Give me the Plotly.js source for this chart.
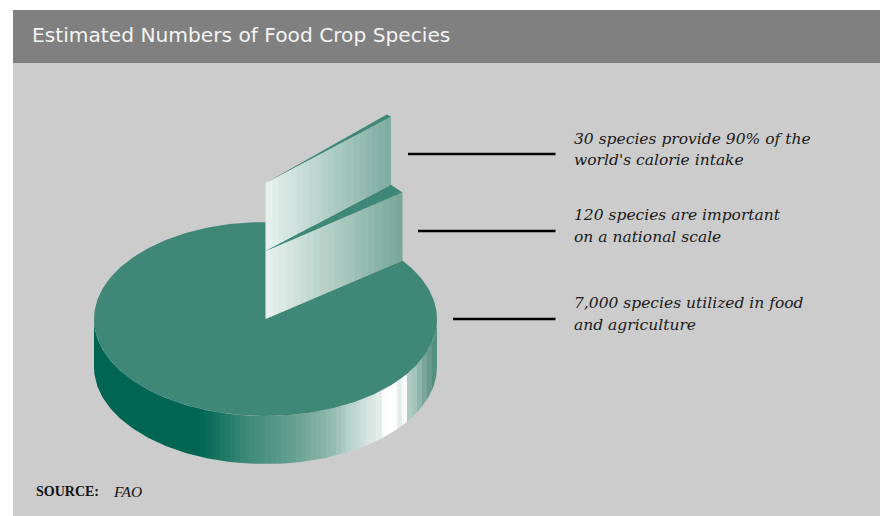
<!DOCTYPE html>
<html>
<head>
<meta charset="utf-8">
<script src="https://cdn.plot.ly/plotly-3.0.1.min.js"></script>
<style>html,body{margin:0;padding:0;background:#fff}#chart{width:880px;height:516px}</style>
</head>
<body>
<div id="chart"></div>
<script>
// ---- data ----
const titleText = "Estimated Numbers of Food Crop Species";
const sliceNames = ["7,000 species", "120 species", "30 species"];
const sliceSpecies = [7000, 120, 30];
const sliceSweepDeg = [352, 6, 2];
const sliceLift = [0, 1, 2];
const labelLines = [
  ["30 species provide 90% of the", "world's calorie intake"],
  ["120 species are important", "on a national scale"],
  ["7,000 species utilized in food", "and agriculture"]
];
const sourceLabel = "SOURCE:";
const sourceValue = "FAO";

// ---- projection of the tilted disc ----
const CX = 265.5, CY = 319, RX = 171.5, RY = 97, DEPTH = 48, LIFT = 68;
const START = 37;
const rad = d => d * Math.PI / 180;
const px = (r, a) => CX + r * RX * Math.cos(rad(a));
const py = (r, a, h) => CY - r * RY * Math.sin(rad(a)) - h;

function arc(from, to, h) {
  const xs = [], ys = [], n = Math.ceil(Math.abs(to - from));
  for (let i = 0; i <= n; i++) {
    const a = from + (to - from) * i / n;
    xs.push(px(1, a)); ys.push(py(1, a, h));
  }
  return [xs, ys];
}
function hex(c) { return [1, 3, 5].map(i => parseInt(c.substr(i, 2), 16)); }
function bands(stops, n) {
  const colorAt = t => {
    let i = 0;
    while (i < stops.length - 2 && t > stops[i + 1][0]) i++;
    const [t0, c0] = stops[i], [t1, c1] = stops[i + 1];
    const f = Math.min(1, Math.max(0, (t - t0) / (t1 - t0)));
    const a = hex(c0), b = hex(c1);
    return "rgb(" + a.map((v, k) => Math.round(v + (b[k] - v) * f)).join(",") + ")";
  };
  const out = [];
  for (let i = 0; i < n; i++) {
    const c = colorAt((i + 0.5) / n);
    out.push([i / n, c], [(i + 1) / n, c]);
  }
  return out;
}

const TOP = "#3f8878";
const sideStops = [
  [0, "#006653"], [0.31, "#006653"], [0.45, "#3f8a78"], [0.58, "#65a08f"],
  [0.69, "#90b9ad"], [0.746, "#b7d2cb"], [0.837, "#e8efed"], [0.847, "#ffffff"],
  [0.878, "#ffffff"], [0.8785, "#e6eeec"], [0.892, "#e6eeec"], [0.8925, "#f8fbfa"],
  [0.9067, "#f8fbfa"], [0.907, "#b6d0c9"], [0.939, "#a0c0b8"], [0.968, "#70a092"], [1, "#4a8b7a"]
];
const wallLow = [[0, "#e8f2ef"], [1, "#76a698"]];
const wallHigh = [[0, "#e8f2ef"], [1, "#7dab9f"]];

function solid(x, y, color, name) {
  return { type: "scatter", mode: "lines", x, y, fill: "toself", fillcolor: color,
           line: { width: 0 }, hoverinfo: "text", text: name, showlegend: false };
}
function graded(x, y, scale, name) {
  return { type: "scatter", mode: "lines", x, y, fill: "toself",
           fillgradient: { type: "horizontal", colorscale: scale },
           line: { width: 0 }, hoverinfo: "text", text: name, showlegend: false };
}
function wedgeTop(from, to, h, name) {
  const [ax, ay] = arc(from, to, h);
  return solid([px(0, 0), ...ax, px(0, 0)], [py(0, 0, h), ...ay, py(0, 0, h)], TOP, name);
}
function wall(a, h0, h1, scale, name) {
  return graded([px(0, a), px(1, a), px(1, a), px(0, a), px(0, a)],
                [py(0, a, h0), py(1, a, h0), py(1, a, h1), py(0, a, h1), py(0, a, h0)],
                scale, name);
}

const midStart = START;
const midEnd = midStart + sliceSweepDeg[1];
const topEnd = midEnd + sliceSweepDeg[2];

const [sfx, sfy] = arc(180, 360, 0);
const [sbx, sby] = arc(360, 180, -DEPTH);
const traces = [
  graded([...sfx, ...sbx, sfx[0]], [...sfy, ...sby, sfy[0]], bands(sideStops, 68), sliceNames[0]),
  wedgeTop(topEnd, topEnd + sliceSweepDeg[0], 0, sliceNames[0]),
  wall(START, 0, sliceLift[1] * LIFT, bands(wallLow, 20), sliceNames[1]),
  wedgeTop(midStart, midEnd, sliceLift[1] * LIFT, sliceNames[1]),
  wall(midEnd, sliceLift[1] * LIFT, sliceLift[2] * LIFT, bands(wallHigh, 20), sliceNames[2]),
  wedgeTop(midEnd, topEnd, sliceLift[2] * LIFT, sliceNames[2])
];

const annotations = [];
const lineY = [[138.5, 160], [215, 237], [303, 324.5]];
labelLines.forEach((lines, i) => lines.forEach((t, j) => annotations.push({
  x: 572, y: lineY[i][j], xref: "x", yref: "y", xanchor: "left", yanchor: "middle",
  text: t, showarrow: false,
  font: { family: "DejaVu Serif", size: 15.5, color: "#1a1a1a", style: "italic" }
})));
annotations.push({ x: 30, y: 35, xref: "x", yref: "y", xanchor: "left", yanchor: "middle",
  text: titleText, showarrow: false,
  font: { family: "DejaVu Sans", size: 20.2, color: "#f4f4f4" } });
annotations.push({ x: 34, y: 491.5, xref: "x", yref: "y", xanchor: "left", yanchor: "middle",
  text: "<b>" + sourceLabel + "</b>", showarrow: false,
  font: { family: "Liberation Serif", size: 14, color: "#111" } });
annotations.push({ x: 111, y: 491.5, xref: "x", yref: "y", xanchor: "left", yanchor: "middle",
  text: "<i>" + sourceValue + "</i>", showarrow: false,
  font: { family: "Liberation Serif", size: 15.5, color: "#111" } });

const leader = (x0, y) => ({ type: "line", xref: "x", yref: "y", x0, x1: 555.5, y0: y, y1: y,
  line: { color: "#000", width: 2.5 }, layer: "above" });

const layout = {
  width: 880, height: 516,
  margin: { l: 0, r: 0, t: 0, b: 0, pad: 0 },
  paper_bgcolor: "#ffffff", plot_bgcolor: "#ffffff",
  showlegend: false, hovermode: "closest",
  xaxis: { range: [0, 880], visible: false, fixedrange: true },
  yaxis: { range: [516, 0], visible: false, fixedrange: true },
  shapes: [
    { type: "rect", xref: "x", yref: "y", x0: 13, x1: 880, y0: 10, y1: 516, fillcolor: "#cccccc", line: { width: 0 }, layer: "below" },
    { type: "rect", xref: "x", yref: "y", x0: 13, x1: 880, y0: 10, y1: 63, fillcolor: "#808080", line: { width: 0 }, layer: "below" },
    leader(408, 154), leader(418, 231), leader(453, 319)
  ],
  annotations
};
Plotly.newPlot("chart", traces, layout, { displayModeBar: false, responsive: false });
</script>
</body>
</html>
